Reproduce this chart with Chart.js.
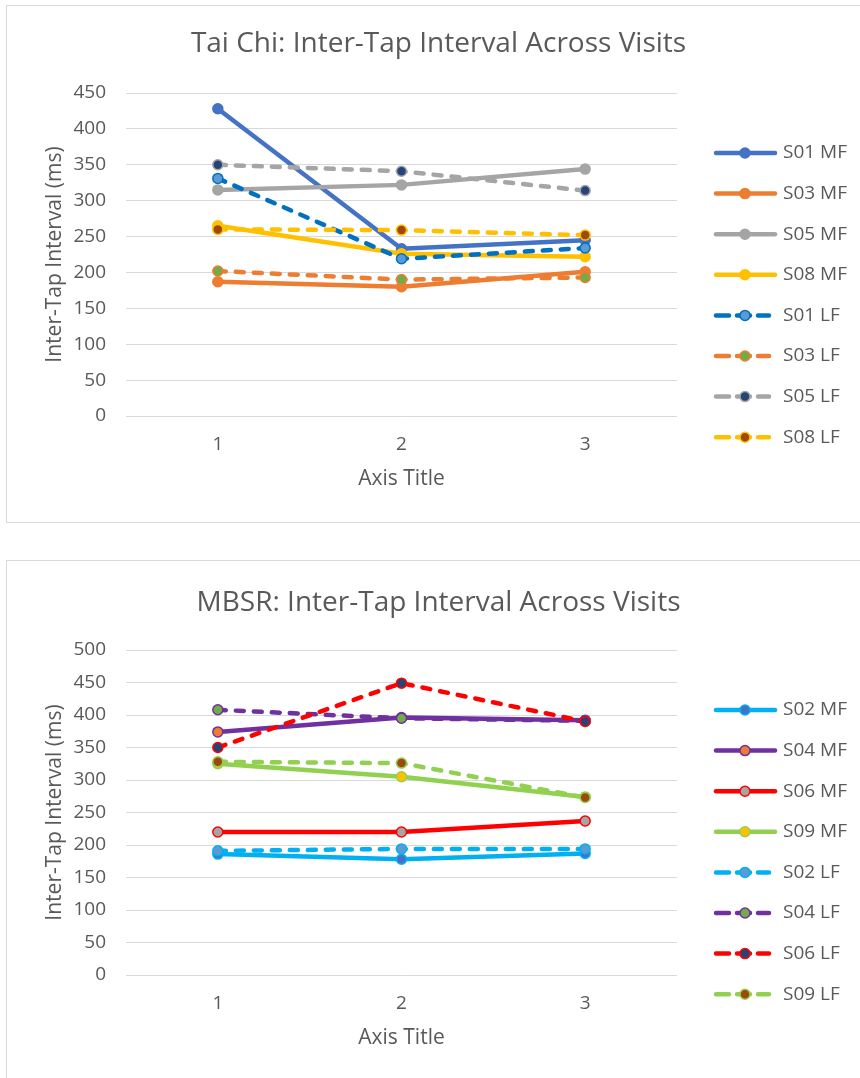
<!DOCTYPE html>
<html>
<head>
<meta charset="utf-8">
<script src="https://cdn.jsdelivr.net/npm/chart.js@4.4.1/dist/chart.umd.min.js"></script>
<style>
  body { margin: 0; background: #fff; overflow: hidden; }
  .box { position: absolute; left: 6px; width: 870px; border: 1px solid #d9d9d9; background: #fff; }
  #box1 { top: 5px; height: 516px; }
  #box2 { top: 560px; height: 530px; }
  canvas { display: block; }
</style>
</head>
<body>
<div class="box" id="box1"><canvas id="taichi" width="853" height="516"></canvas></div>
<div class="box" id="box2"><canvas id="mbsr" width="853" height="517"></canvas></div>
<script>
// visits on the x axis
const visits = ['1', '2', '3'];

// Tai Chi group, inter-tap interval (ms)
const s01MF = [428, 233, 245];
const s03MF = [187, 180, 201];
const s05MF = [315, 322, 344];
const s08MF = [265, 226, 222];
const s01LF = [331, 219, 234];
const s03LF = [202, 190, 193];
const s05LF = [350, 341, 314];
const s08LF = [260, 259, 252];

// MBSR group, inter-tap interval (ms)
const s02MF = [186, 178, 187];
const s04MF = [374, 396, 392];
const s06MF = [220, 220, 237];
const s09MF = [325, 305, 274];
const s02LF = [191, 194, 194];
const s04LF = [408, 395, 391];
const s06LF = [350, 449, 390];
const s09LF = [328, 326, 273];

const grey = '#595959';
const font = 'Open Sans';

function series(label, data, line, fill, dashed, i) {
	return {
		label: label,
		data: data,
		borderColor: line,
		borderWidth: 4.5,
		borderDash: dashed ? [8, 10] : [],
		borderCapStyle: 'round',
		pointRadius: 5,
		pointBorderWidth: 1.5,
		pointBackgroundColor: fill,
		pointBorderColor: line,
		order: 20 - i,
		tension: 0,
		fill: false
	};
}

// legend drawn as line sample + marker, like the spreadsheet one
const lineLegend = {
	id: 'lineLegend',
	afterDraw(chart) {
		const ctx = chart.ctx;
		const area = chart.chartArea;
		ctx.save();
		chart.data.datasets.forEach(function (ds, i) {
			const y = area.top + 60 + i * 40.6;
			const x0 = area.right + 37;
			const dashed = ds.borderDash.length > 0;
			ctx.lineWidth = ds.borderWidth;
			ctx.strokeStyle = ds.borderColor;
			ctx.lineCap = 'round';
			ctx.setLineDash(dashed ? [13, 8] : []);
			ctx.beginPath();
			ctx.moveTo(x0 + 2, y);
			ctx.lineTo(x0 + (dashed ? 55 : 61), y);
			ctx.stroke();
			ctx.setLineDash([]);
			ctx.beginPath();
			ctx.arc(x0 + 31, y, 5, 0, Math.PI * 2);
			ctx.fillStyle = ds.pointBackgroundColor;
			ctx.fill();
			ctx.lineWidth = 1.5;
			ctx.strokeStyle = ds.pointBorderColor;
			ctx.stroke();
			ctx.fillStyle = grey;
			ctx.font = '19px "' + font + '"';
			ctx.textAlign = 'left';
			ctx.textBaseline = 'middle';
			ctx.fillText(ds.label, x0 + 69, y);
		});
		ctx.restore();
	}
};

function options(title, yMax, titlePad, xHeight, xTitlePad) {
	return {
		responsive: false,
		animation: false,
		layout: { padding: { left: 10, right: 0, top: 0, bottom: 0 } },
		plugins: {
			legend: { display: false },
			tooltip: { enabled: false },
			title: {
				display: true,
				text: title,
				color: grey,
				font: { family: font, size: 28, weight: 'normal' },
				padding: titlePad
			}
		},
		scales: {
			x: {
				offset: true,
				grid: { display: false, drawTicks: false },
				border: { display: false },
				ticks: { color: grey, font: { family: font, size: 19 }, padding: 17 },
				title: {
					display: true,
					text: 'Axis Title',
					color: grey,
					font: { family: font, size: 21 },
					padding: { top: 4, bottom: xTitlePad }
				},
				afterFit: function (scale) { scale.height = xHeight; }
			},
			y: {
				min: 0,
				max: yMax,
				grid: { color: '#d9d9d9', lineWidth: 1, drawTicks: false },
				border: { display: false },
				ticks: { stepSize: 50, color: grey, font: { family: font, size: 19 }, padding: 20 },
				title: {
					display: true,
					text: 'Inter-Tap Interval (ms)',
					color: grey,
					font: { family: font, size: 21 },
					padding: { top: 25.4, bottom: 0 }
				},
				afterFit: function (scale) { scale.width = 109; }
			},
			// empty strip on the right that holds the legend
			side: {
				type: 'linear',
				axis: 'y',
				position: 'right',
				grid: { display: false, drawTicks: false },
				border: { display: false },
				ticks: { display: false },
				afterFit: function (scale) { scale.width = 183; }
			}
		}
	};
}

new Chart(document.getElementById('taichi'), {
	type: 'line',
	data: {
		labels: visits,
		datasets: [
			series('S01 MF', s01MF, '#4472C4', '#4472C4', false, 0),
			series('S03 MF', s03MF, '#ED7D31', '#ED7D31', false, 1),
			series('S05 MF', s05MF, '#A5A5A5', '#A5A5A5', false, 2),
			series('S08 MF', s08MF, '#FFC000', '#FFC000', false, 3),
			series('S01 LF', s01LF, '#0070C0', '#5B9BD5', true, 4),
			series('S03 LF', s03LF, '#ED7D31', '#70AD47', true, 5),
			series('S05 LF', s05LF, '#A5A5A5', '#264478', true, 6),
			series('S08 LF', s08LF, '#FFC000', '#9E480E', true, 7)
		]
	},
	options: options('Tai Chi: Inter-Tap Interval Across Visits', 450, { top: 21.7, bottom: 31.7 }, 106, 30.4),
	plugins: [lineLegend]
});

new Chart(document.getElementById('mbsr'), {
	type: 'line',
	data: {
		labels: visits,
		datasets: [
			series('S02 MF', s02MF, '#00B0F0', '#4472C4', false, 0),
			series('S04 MF', s04MF, '#7030A0', '#ED7D31', false, 1),
			series('S06 MF', s06MF, '#FF0000', '#A5A5A5', false, 2),
			series('S09 MF', s09MF, '#92D050', '#FFC000', false, 3),
			series('S02 LF', s02LF, '#00B0F0', '#5B9BD5', true, 4),
			series('S04 LF', s04LF, '#7030A0', '#70AD47', true, 5),
			series('S06 LF', s06LF, '#FF0000', '#264478', true, 6),
			series('S09 LF', s09LF, '#92D050', '#9E480E', true, 7)
		]
	},
	options: options('MBSR: Inter-Tap Interval Across Visits', 500, { top: 25.2, bottom: 30.2 }, 103, 27.4),
	plugins: [lineLegend]
});
</script>
</body>
</html>
